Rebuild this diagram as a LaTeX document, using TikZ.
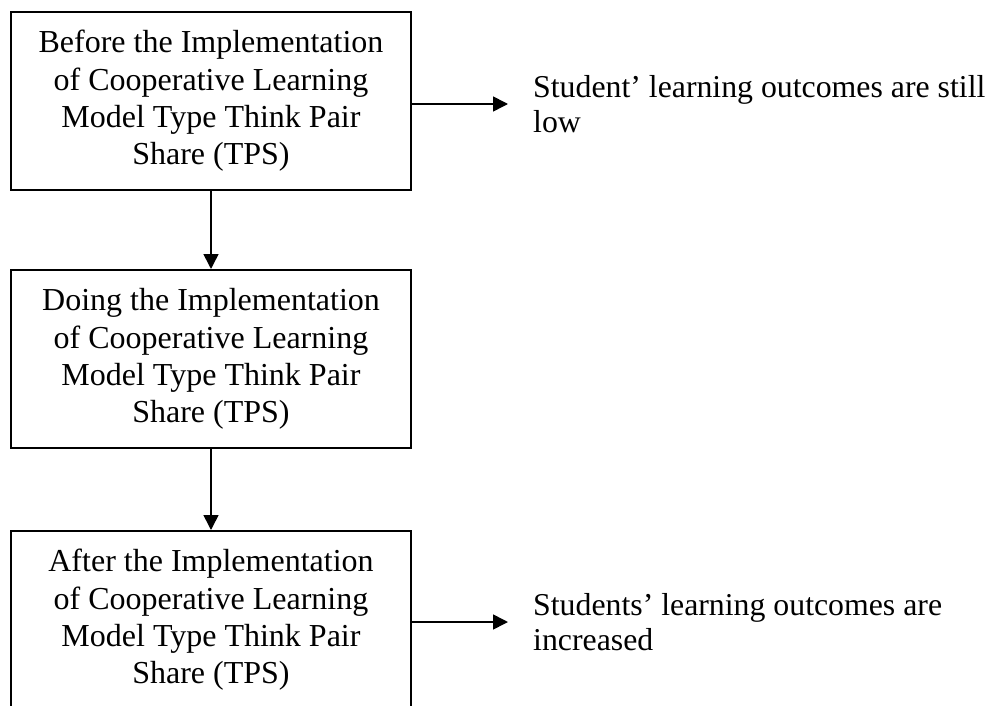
\documentclass[tikz,border=0pt]{standalone}
\usepackage{fontspec}
\setmainfont{Liberation Serif}
\usetikzlibrary{arrows.meta}
\begin{document}
\begin{tikzpicture}[x=1pt,y=-1pt,
  stagebox/.style={draw, line width=2pt, minimum width=400pt, minimum height=178pt,
    inner sep=0pt, align=center, font=\fontsize{32}{37.3}\selectfont},
  result/.style={anchor=west, inner sep=0pt, align=left,
    font=\fontsize{31.8}{35}\selectfont},
  arr/.style={line width=1.6pt, -{Triangle[length=15pt,width=15pt]}}]
  \useasboundingbox (0,0) rectangle (991,706);
  \clip (0,0) rectangle (991,706);

  % the three stages
  \node[stagebox] (before) at (211,101) {Before the Implementation\\of Cooperative Learning\\Model Type Think Pair\\Share (TPS)};
  \node[stagebox] (doing) at (211,359) {Doing the Implementation\\of Cooperative Learning\\Model Type Think Pair\\Share (TPS)};
  \node[stagebox] (after) at (211,620) {After the Implementation\\of Cooperative Learning\\Model Type Think Pair\\Share (TPS)};

  % outcomes
  \node[result] (low) at (533,104) {Student’ learning outcomes are still\\low};
  \node[result] (high) at (533,622) {Students’ learning outcomes are\\increased};

  % connectors
  \draw[arr] (before.south) -- (doing.north);
  \draw[arr] (doing.south) -- (after.north);
  \draw[arr] (before.east |- low.west) -- ([xshift=-25pt]low.west);
  \draw[arr] (after.east |- high.west) -- ([xshift=-25pt]high.west);
\end{tikzpicture}
\end{document}
